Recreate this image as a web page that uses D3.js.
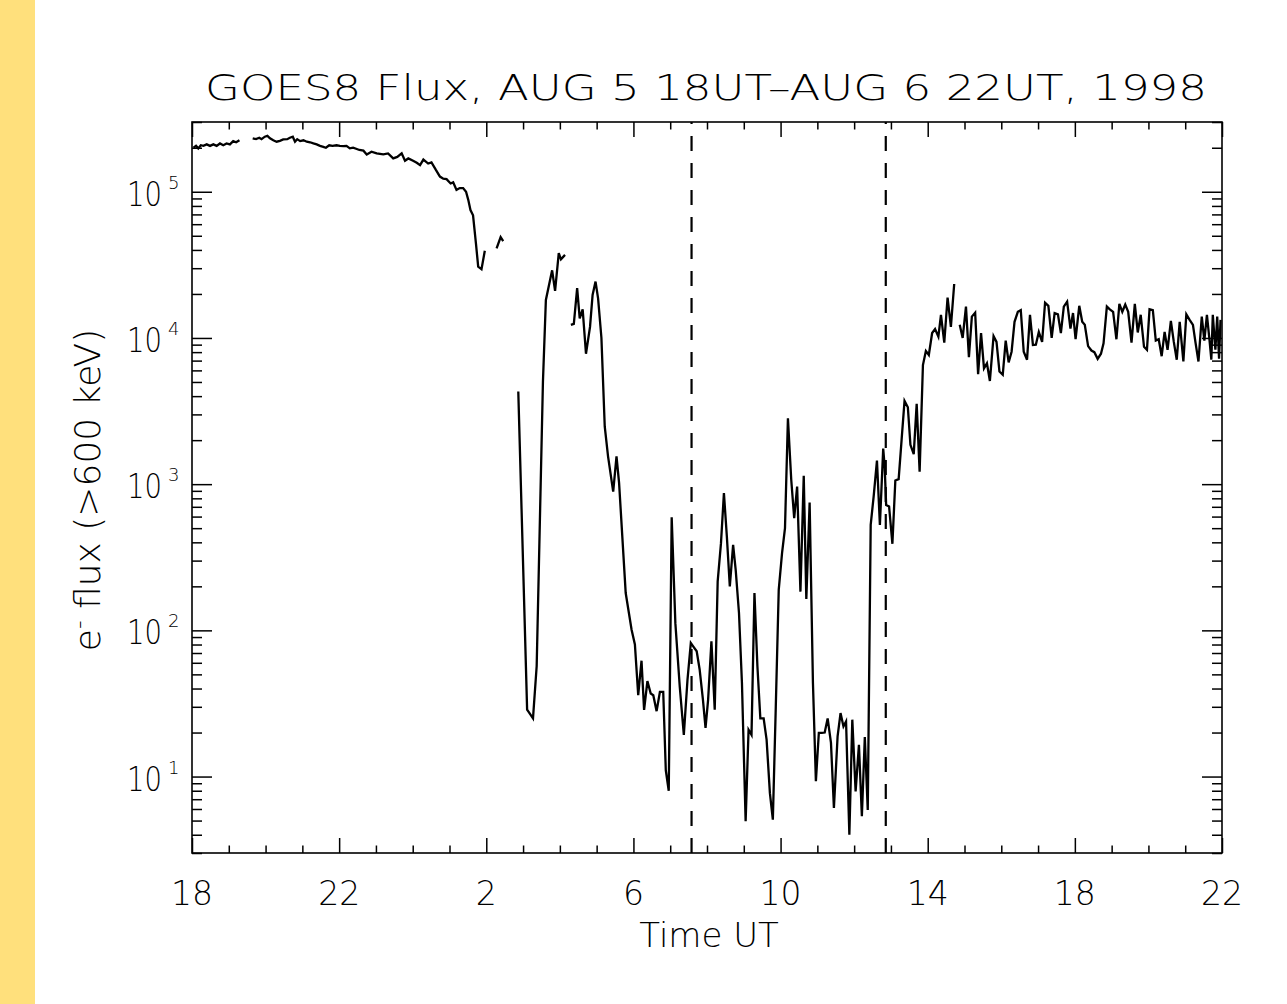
<!DOCTYPE html>
<html>
<head>
<meta charset="utf-8">
<script src="https://cdn.jsdelivr.net/npm/d3@7"></script>
<style>
  html, body { margin: 0; padding: 0; background: #ffffff; }
  svg { display: block; }
  text { font-family: "DejaVu Sans", "Liberation Sans", sans-serif; font-weight: 300; fill: #000; }
</style>
</head>
<body>
<svg id="chart" width="1287" height="1004"></svg>
<script>
// ---------------- DATA ----------------
const titleText = "GOES8 Flux, AUG 5 18UT\u2013AUG 6 22UT, 1998";
const xLabel = "Time UT";
// x tick labels (UT hour) at hours since Aug 5 18UT
const xTickHours = [0, 4, 8, 12, 16, 20, 24, 28];
const xTickLabels = ["18", "22", "2", "6", "10", "14", "18", "22"];
const yDecades = [1, 2, 3, 4, 5];
// vertical dashed markers (hours since Aug 5 18UT)
const markerHours = [13.58, 18.86];

// time in hours since Aug 5 18UT, null flux = data gap
const hours = [
  0.04,0.11,0.17,0.24,0.31,0.40,0.49,0.58,0.67,0.76,0.85,0.94,1.03,1.12,1.20,1.29,
  1.45,
  1.65,1.74,1.83,1.89,1.98,2.05,2.12,2.21,2.30,2.39,2.48,2.59,2.66,2.74,2.80,2.86,2.94,3.03,3.12,3.21,3.30,3.39,3.48,3.57,3.64,3.73,3.82,3.93,4.02,4.11,4.20,4.29,4.38,4.48,4.55,
  4.66,4.75,4.88,5.02,5.20,5.33,5.47,5.58,5.70,5.79,5.88,6.01,6.11,6.20,6.29,6.42,6.51,6.63,6.74,6.83,6.92,7.03,7.10,7.19,7.28,7.37,7.45,7.51,7.57,7.64,7.72,7.78,7.87,7.96,
  8.10,
  8.28,8.39,8.46,
  8.65,
  8.87,9.11,9.27,9.37,9.54,9.62,9.79,9.87,9.97,10.03,10.14,
  10.22,
  10.30,10.38,10.47,10.54,10.62,10.71,10.82,10.89,10.97,11.04,11.13,11.22,11.31,11.45,11.54,11.61,11.79,11.95,12.04,12.13,12.22,12.29,12.38,12.47,12.54,12.63,12.72,12.81,12.88,12.96,
  13.04,13.14,13.26,13.37,13.47,13.56,13.62,13.72,13.80,13.89,13.96,14.03,14.12,14.21,14.29,14.38,14.46,14.54,14.62,14.71,14.78,14.87,14.95,
  15.05,15.13,15.21,15.29,15.37,15.45,15.54,15.62,15.71,15.79,15.87,15.95,16.04,16.12,16.20,16.29,16.37,16.45,16.54,16.63,16.70,16.79,16.88,16.96,
  17.04,17.12,17.20,17.28,17.37,17.45,17.55,17.63,17.71,17.78,17.87,17.95,18.04,18.13,18.21,18.29,18.37,18.45,18.53,18.62,18.70,18.79,18.83,18.87,18.95,
  19.04,19.12,19.21,19.29,19.37,19.46,19.53,19.62,19.70,19.78,19.87,19.95,20.03,20.12,20.20,20.29,20.36,20.45,20.54,20.63,20.72,
  20.79,
  20.87,20.95,21.04,21.12,21.20,21.29,21.37,21.45,21.53,21.61,21.69,21.79,21.87,21.95,22.04,22.12,22.20,22.28,22.36,22.45,22.53,22.61,22.70,22.78,22.86,22.94,
  23.02,23.11,23.19,23.28,23.37,23.45,23.54,23.62,23.70,23.79,23.88,23.95,24.02,24.12,24.20,24.27,24.36,24.45,24.53,24.62,24.71,24.78,24.87,24.95,
  25.04,25.13,25.21,25.29,25.37,25.45,25.54,25.63,25.71,25.79,25.88,25.96,26.03,26.12,26.20,26.28,26.36,26.44,26.52,26.61,26.69,26.77,26.85,26.95,
  27.03,27.12,27.21,27.28,27.36,27.45,27.52,27.59,27.66,27.71,27.75,27.82,27.87,27.92,27.96
];
const flux = [
  2.00e5,2.06e5,1.98e5,2.08e5,2.06e5,2.11e5,2.06e5,2.11e5,2.06e5,2.14e5,2.08e5,2.14e5,2.11e5,2.22e5,2.18e5,2.25e5,
  null,
  2.32e5,2.29e5,2.34e5,2.29e5,2.38e5,2.41e5,2.32e5,2.25e5,2.20e5,2.23e5,2.28e5,2.29e5,2.34e5,2.38e5,2.20e5,2.29e5,2.22e5,2.25e5,2.20e5,2.18e5,2.14e5,2.11e5,2.06e5,2.03e5,2.00e5,2.08e5,2.06e5,2.08e5,2.06e5,2.05e5,2.06e5,1.98e5,2.00e5,1.96e5,1.93e5,
  1.91e5,1.80e5,1.88e5,1.83e5,1.80e5,1.83e5,1.69e5,1.73e5,1.83e5,1.63e5,1.69e5,1.63e5,1.58e5,1.52e5,1.66e5,1.56e5,1.59e5,1.41e5,1.27e5,1.23e5,1.22e5,1.14e5,1.16e5,1.03e5,1.06e5,1.06e5,1.00e5,8.8e4,7.5e4,6.9e4,4.4e4,3.07e4,2.95e4,3.95e4,
  null,
  4.1e4,4.9e4,4.6e4,
  null,
  4.3e3,28.7,25,57,5.0e3,1.82e4,2.9e4,2.1e4,3.8e4,3.45e4,3.7e4,
  null,
  1.23e4,1.25e4,2.19e4,1.36e4,1.57e4,7.8e3,1.19e4,1.97e4,2.43e4,1.86e4,1.0e4,2.48e3,1.55e3,890,1.55e3,1.02e3,180,101,80,36,62,28.6,45,37,36,28,38,38,11,8.0,
  594,112,41,19.3,46,82,78,72,54,33.5,21.5,33.5,84,28.7,216,395,868,438,200,385,259,131,43.6,
  4.94,20.9,19.3,180,57,25,25,17.9,7.7,5.07,30,189,337,500,2825,1072,586,964,184,1140,164,748,43.6,9.3,
  19.9,19.9,20,25,17,6.1,18.8,27.2,22,23.8,4.0,24.5,7.9,16.5,5.35,18.6,5.9,527,822,1450,527,1750,1320,720,703,
  391,1060,1082,2010,3710,3360,1857,1604,3540,1218,6530,8150,7650,1.08e4,1.15e4,1.02e4,1.44e4,9.3e3,1.89e4,1.19e4,2.34e4,
  null,
  1.23e4,1.0e4,1.64e4,7.4e3,1.4e4,1.49e4,5.65e3,1.08e4,6.2e3,6.7e3,5.08e3,1.03e4,9.4e3,5.9e3,5.6e3,9.6e3,6.8e3,8.05e3,1.29e4,1.51e4,1.55e4,8.05e3,7.1e3,1.44e4,8.96e3,9.0e3,
  1.1e4,9.4e3,1.74e4,1.66e4,1.0e4,1.48e4,1.45e4,1.08e4,1.64e4,1.77e4,1.16e4,1.48e4,9.8e3,1.66e4,1.29e4,1.23e4,8.8e3,8.2e3,8.0e3,7.2e3,7.8e3,9.2e3,1.64e4,1.57e4,
  1.51e4,9.8e3,1.71e4,1.51e4,1.69e4,1.51e4,9.3e3,1.71e4,1.09e4,1.44e4,8.7e3,8.3e3,1.57e4,1.55e4,9.6e3,9.8e3,7.5e3,1.1e4,8.3e3,1.31e4,9.4e3,7.1e3,1.29e4,6.9e3,
  1.45e4,1.33e4,1.23e4,9.3e3,6.9e3,1.4e4,9.6e3,1.44e4,9.7e3,7.1e3,1.44e4,8.3e3,1.4e4,7.2e3,1.33e4
];

// ---------------- CHART ----------------
const svg = d3.select("#chart");
const W = 1287, H = 1004;
const m = { left: 192, right: 1222, top: 122, bottom: 853 };

// yellow strip on the left
svg.append("rect").attr("x", 0).attr("y", 0).attr("width", 35).attr("height", H).attr("fill", "#FFE07C");

const x = d3.scaleLinear().domain([0, 28]).range([m.left, m.right]);
const y = d3.scaleLog().domain([3, 3e5]).range([m.bottom, m.top]);

const minorX = d3.range(0, 29).filter(h => h % 4 !== 0);
const majorY = yDecades.map(d => Math.pow(10, d));
const minorY = [];
for (let e = 0; e <= 5; e++) for (let k = 2; k <= 9; k++) {
  const v = k * Math.pow(10, e);
  if (v >= 3 && v <= 3e5) minorY.push(v);
}

function styleAxis(g) {
  g.select(".domain").remove();
  g.selectAll(".tick line").attr("stroke", "#000").attr("stroke-width", 1.5);
  g.selectAll(".tick text").remove();
}
// bottom / top axes
svg.append("g").attr("transform", `translate(0,${m.bottom})`)
  .call(d3.axisBottom(x).tickValues(xTickHours).tickSize(-15)).call(styleAxis);
svg.append("g").attr("transform", `translate(0,${m.bottom})`)
  .call(d3.axisBottom(x).tickValues(minorX).tickSize(-7.5)).call(styleAxis);
svg.append("g").attr("transform", `translate(0,${m.top})`)
  .call(d3.axisTop(x).tickValues(xTickHours).tickSize(-15)).call(styleAxis);
svg.append("g").attr("transform", `translate(0,${m.top})`)
  .call(d3.axisTop(x).tickValues(minorX).tickSize(-7.5)).call(styleAxis);
// left / right axes
svg.append("g").attr("transform", `translate(${m.left},0)`)
  .call(d3.axisLeft(y).tickValues(majorY).tickSize(-20)).call(styleAxis);
svg.append("g").attr("transform", `translate(${m.left},0)`)
  .call(d3.axisLeft(y).tickValues(minorY).tickSize(-10)).call(styleAxis);
svg.append("g").attr("transform", `translate(${m.right},0)`)
  .call(d3.axisRight(y).tickValues(majorY).tickSize(-20)).call(styleAxis);
svg.append("g").attr("transform", `translate(${m.right},0)`)
  .call(d3.axisRight(y).tickValues(minorY).tickSize(-10)).call(styleAxis);

// frame
svg.append("rect").attr("x", m.left).attr("y", m.top)
  .attr("width", m.right - m.left).attr("height", m.bottom - m.top)
  .attr("fill", "none").attr("stroke", "#000").attr("stroke-width", 1.6);

// x tick labels
svg.append("g").selectAll("text").data(xTickHours).join("text")
  .attr("x", d => x(d)).attr("y", 905)
  .attr("text-anchor", "middle").attr("font-size", 33)
  .text((d, i) => xTickLabels[i]);

// y tick labels 10^n (one text element with superscript tspan)
const yl = svg.append("g").selectAll("text").data(yDecades).join("text")
  .attr("x", 127).attr("y", d => y(Math.pow(10, d)) + 14)
  .attr("font-size", 33);
yl.append("tspan").attr("textLength", 35).attr("lengthAdjust", "spacingAndGlyphs").text("10");
yl.append("tspan").attr("x", 168).attr("dy", -17).attr("font-size", 18).text(d => d);

// axis titles
svg.append("text").attr("x", 709).attr("y", 947).attr("text-anchor", "middle")
  .attr("font-size", 34).text(xLabel);
const ylab = svg.append("text")
  .attr("transform", "translate(100,490) rotate(-90)")
  .attr("text-anchor", "middle").attr("font-size", 36);
ylab.append("tspan").text("e");
ylab.append("tspan").attr("font-size", 24).attr("dy", -13).text("-");
ylab.append("tspan").attr("dy", 13).text(" flux (>600 keV)");

// title
svg.append("text").attr("x", 205).attr("y", 100)
  .attr("font-size", 35).attr("textLength", 1002).attr("lengthAdjust", "spacingAndGlyphs")
  .text(titleText);

// dashed markers
svg.append("g").selectAll("line").data(markerHours).join("line")
  .attr("x1", d => x(d)).attr("x2", d => x(d))
  .attr("y1", m.bottom).attr("y2", m.top)
  .attr("stroke", "#000").attr("stroke-width", 2.2).attr("stroke-dasharray", "15,12");

// data line
const pts = hours.map((h, i) => ({ h, v: flux[i] }));
const line = d3.line().defined(d => d.v != null).x(d => x(d.h)).y(d => y(d.v));
svg.append("path").datum(pts).attr("d", line)
  .attr("fill", "none").attr("stroke", "#000").attr("stroke-width", 2.3)
  .attr("stroke-linejoin", "miter");
</script>
</body>
</html>
